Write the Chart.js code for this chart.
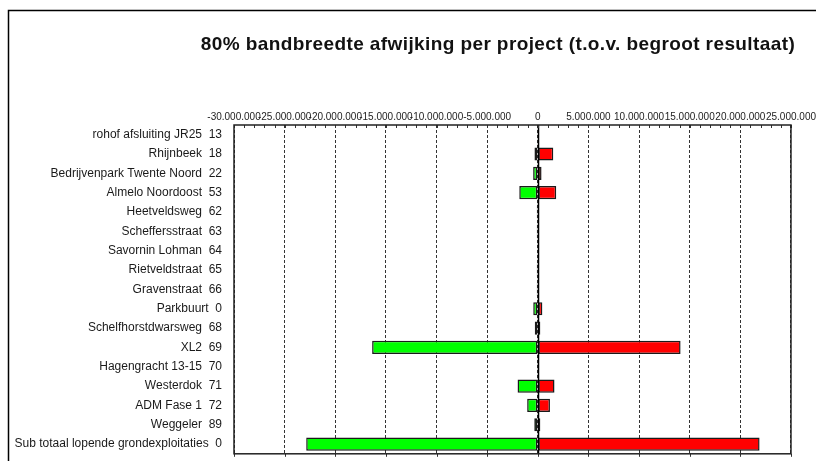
<!DOCTYPE html>
<html>
<head>
<meta charset="utf-8">
<script src="https://cdn.jsdelivr.net/npm/chart.js@4"></script>
<style>
  html, body { margin: 0; padding: 0; background: #fff; }
  #wrap { width: 816px; height: 461px; position: relative; }
</style>
</head>
<body>
<div id="wrap"><canvas id="grafico" width="816" height="461"></canvas></div>
<script>
const titel = '80% bandbreedte afwijking per project (t.o.v. begroot resultaat)'

const projecten = [
  'rohof afsluiting JR25  13',
  'Rhijnbeek  18',
  'Bedrijvenpark Twente Noord  22',
  'Almelo Noordoost  53',
  'Heetveldsweg  62',
  'Scheffersstraat  63',
  'Savornin Lohman  64',
  'Rietveldstraat  65',
  'Gravenstraat  66',
  'Parkbuurt  0',
  'Schelfhorstdwarsweg  68',
  'XL2  69',
  'Hagengracht 13-15  70',
  'Westerdok  71',
  'ADM Fase 1  72',
  'Weggeler  89',
  'Sub totaal lopende grondexploitaties  0'
]

// onderkant bandbreedte (groen) en bovenkant (rood)
const afwijkingLaag = [0, -330000, -460000, -1830000, -100000, -100000, 0, -100000, -100000,
  -450000, -300000, -16360000, -80000, -2000000, -1050000, -350000, -22870000]
const afwijkingHoog = [0, 1530000, 370000, 1820000, 100000, 100000, 0, 100000, 100000,
  450000, 250000, 14100000, 80000, 1650000, 1200000, 250000, 21900000]

const asMin = -30000000
const asMax = 25000000
const asStap = 5000000
const asKleineStap = 1000000

const lettertype = '"Liberation Sans", Arial, sans-serif'

function formatBedrag(v) {
  const neg = v < 0
  const s = Math.abs(Math.round(v)).toString().replace(/\B(?=(\d{3})+(?!\d))/g, '.')
  return (neg ? '-' : '') + s
}

// kader, titel, nullijn en kleine streepjes
const extraTekenen = {
  id: 'extraTekenen',
  beforeDraw(chart) {
    const ctx = chart.ctx
    ctx.save()
    ctx.strokeStyle = '#000'
    ctx.lineWidth = 1.5
    ctx.beginPath()
    ctx.moveTo(8.5, 461)
    ctx.lineTo(8.5, 10.5)
    ctx.lineTo(816, 10.5)
    ctx.stroke()
    ctx.fillStyle = '#111'
    ctx.font = 'bold 19px ' + lettertype
    ctx.letterSpacing = '0.4px'
    ctx.textAlign = 'center'
    ctx.textBaseline = 'middle'
    ctx.fillText(titel, 498, 45)
    ctx.restore()
  },
  afterDatasetsDraw(chart) {
    const ctx = chart.ctx
    const a = chart.chartArea
    const x = chart.scales.x
    ctx.save()
    // nullijn
    const x0 = Math.round(x.getPixelForValue(0)) + 0.5
    ctx.strokeStyle = '#000'
    ctx.lineWidth = 1.5
    ctx.beginPath()
    ctx.moveTo(x0, a.top)
    ctx.lineTo(x0, a.bottom)
    ctx.stroke()
    // kleine streepjes
    ctx.strokeStyle = '#333'
    ctx.lineWidth = 1
    ctx.beginPath()
    for (let v = asMin; v <= asMax; v += asKleineStap) {
      const px = Math.round(x.getPixelForValue(v)) + 0.5
      ctx.moveTo(px, a.top)
      ctx.lineTo(px, a.top + 3)
      if (v % asStap === 0) {
        ctx.moveTo(px, a.bottom)
        ctx.lineTo(px, a.bottom + 3)
      }
    }
    ctx.stroke()
    // kader plotgebied
    ctx.strokeStyle = '#222'
    ctx.lineWidth = 1.5
    ctx.strokeRect(a.left, a.top, a.right - a.left, a.bottom - a.top)
    ctx.restore()
  }
}

new Chart(document.getElementById('grafico'), {
  type: 'bar',
  data: {
    labels: projecten,
    datasets: [{
      label: 'laag',
      data: afwijkingLaag,
      backgroundColor: '#00FF00',
      borderColor: '#1a1a1a',
      borderWidth: 1.5,
      borderSkipped: false,
      barPercentage: 0.68,
      categoryPercentage: 1
    },
    {
      label: 'hoog',
      data: afwijkingHoog,
      backgroundColor: '#FF0000',
      borderColor: '#1a1a1a',
      borderWidth: 1.5,
      borderSkipped: false,
      barPercentage: 0.68,
      categoryPercentage: 1
    }]
  },
  options: {
    indexAxis: 'y',
    responsive: false,
    animation: false,
    layout: { padding: { top: 103, right: 24, bottom: 6, left: 0 } },
    plugins: {
      legend: { display: false },
      tooltip: { enabled: false },
      title: { display: false }
    },
    scales: {
      x: {
        position: 'top',
        stacked: true,
        min: asMin,
        max: asMax,
        afterFit(scale) { scale.height = 22 },
        ticks: {
          stepSize: asStap,
          autoSkip: false,
          maxRotation: 0,
          padding: 0,
          color: '#222',
          font: { family: lettertype, size: 10 },
          callback: (v) => formatBedrag(v)
        },
        grid: {
          drawTicks: true,
          tickLength: 2,
          tickColor: 'rgba(0,0,0,0)',
          color: '#333',
          lineWidth: 1
        },
        border: { display: false, dash: [3, 2] }
      },
      y: {
        stacked: true,
        afterFit(scale) { scale.width = 234 },
        ticks: {
          padding: 0,
          color: '#1a1a1a',
          font: { family: lettertype, size: 12 }
        },
        grid: { display: false, drawTicks: true, tickLength: 12 },
        border: { display: false }
      }
    }
  },
  plugins: [extraTekenen]
})
</script>
</body>
</html>
